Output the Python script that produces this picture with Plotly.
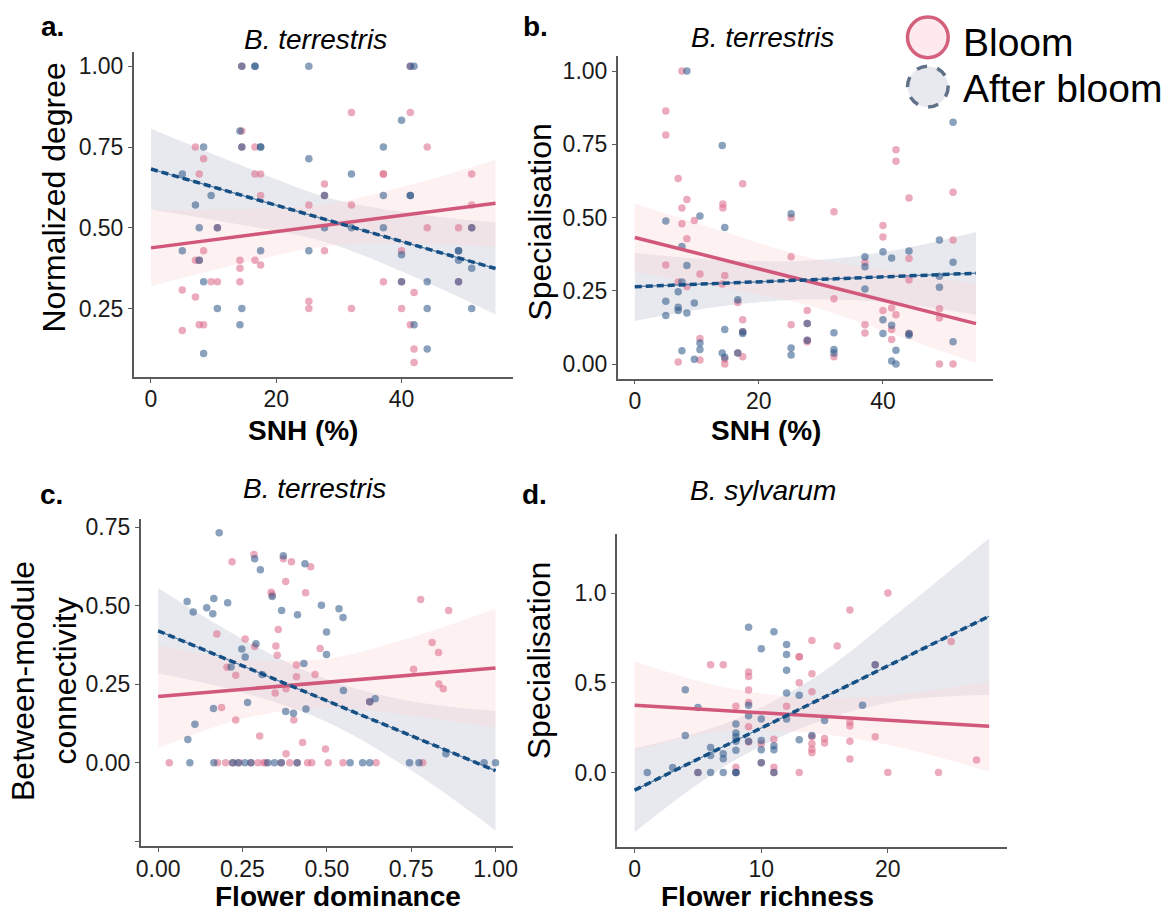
import plotly.graph_objects as go

# ---------------- data ----------------
# Panel a: SNH (%) vs Normalized degree, B. terrestris
a_bloom = [(14.5, 1.0), (41.4, 1.0), (32.0, 0.857), (41.4, 0.857), (14.5, 0.8),
           (7.1, 0.75), (14.5, 0.75), (16.6, 0.75), (44.1, 0.75), (8.4, 0.714),
           (7.7, 0.667), (16.6, 0.667), (17.5, 0.667), (37.1, 0.667), (37.1, 0.667), (51.2, 0.667),
           (27.7, 0.636), (17.5, 0.6), (27.7, 0.6), (25.2, 0.571), (32.0, 0.571), (51.2, 0.571),
           (10.6, 0.5), (44.1, 0.5), (49.1, 0.5), (51.2, 0.5), (8.4, 0.429), (27.7, 0.429), (40.0, 0.429),
           (7.1, 0.4), (7.7, 0.4), (14.2, 0.4), (16.6, 0.4), (17.5, 0.385), (14.2, 0.375),
           (9.6, 0.333), (10.6, 0.333), (14.2, 0.333), (37.1, 0.333), (40.0, 0.333), (49.1, 0.333),
           (5.0, 0.308), (42.0, 0.3), (7.1, 0.286), (25.2, 0.273), (25.2, 0.25), (32.0, 0.25), (40.0, 0.25),
           (7.7, 0.2), (8.4, 0.2), (41.4, 0.2), (5.0, 0.182), (42.0, 0.125), (42.0, 0.083)]
a_after = [(14.5, 1.0), (16.6, 1.0), (16.6, 1.0), (25.2, 1.0), (41.4, 1.0), (42.0, 1.0),
           (40.0, 0.833), (14.2, 0.8), (8.4, 0.75), (14.5, 0.75), (17.5, 0.75), (17.5, 0.75), (37.1, 0.75),
           (25.2, 0.714), (5.0, 0.667), (32.0, 0.667), (9.6, 0.6), (27.7, 0.6), (37.1, 0.6), (41.4, 0.6), (41.4, 0.6),
           (7.1, 0.571), (7.7, 0.5), (10.6, 0.5), (27.7, 0.5), (32.0, 0.5), (37.1, 0.5), (51.2, 0.5),
           (5.0, 0.429), (17.5, 0.429), (25.2, 0.429), (49.1, 0.429), (49.1, 0.429), (40.0, 0.417),
           (7.7, 0.4), (49.1, 0.4), (51.2, 0.375), (8.4, 0.333), (40.0, 0.333), (44.1, 0.333), (49.1, 0.333),
           (10.6, 0.25), (14.5, 0.25), (44.1, 0.25), (51.2, 0.25), (14.2, 0.2), (42.0, 0.2),
           (44.1, 0.125), (8.4, 0.111)]
a_fit_x = [0, 14, 28, 41, 55]
a_bloom_fit = [0.438, 0.473, 0.508, 0.541, 0.576]
a_bloom_hi = [0.557, 0.558, 0.573, 0.631, 0.711]
a_bloom_lo = [0.319, 0.388, 0.443, 0.451, 0.441]
a_after_fit = [0.682, 0.604, 0.525, 0.452, 0.374]
a_after_hi = [0.807, 0.697, 0.595, 0.547, 0.516]
a_after_lo = [0.557, 0.511, 0.455, 0.357, 0.232]

# Panel b: SNH (%) vs Specialisation, B. terrestris
b_bloom = [(7.6, 1.0), (5.0, 0.864), (5.0, 0.782), (7.0, 0.633), (17.4, 0.615), (42.1, 0.731), (42.1, 0.692),
           (44.2, 0.567), (51.3, 0.586), (14.2, 0.546), (14.2, 0.533), (8.4, 0.562), (7.6, 0.533), (9.6, 0.49),
           (7.6, 0.479), (8.4, 0.428), (25.2, 0.499), (32.1, 0.52), (40.0, 0.473), (40.0, 0.434), (51.3, 0.423),
           (25.2, 0.366), (44.2, 0.36), (44.2, 0.287), (37.1, 0.347), (5.0, 0.338), (10.5, 0.307), (14.5, 0.302),
           (7.0, 0.28), (8.4, 0.265), (14.1, 0.273), (16.6, 0.21), (32.1, 0.223), (17.4, 0.151),
           (27.8, 0.183), (27.8, 0.138), (25.2, 0.134), (37.1, 0.134), (37.1, 0.106), (40.0, 0.183),
           (41.4, 0.191), (41.4, 0.118), (42.1, 0.168), (41.4, 0.084), (44.2, 0.104), (49.1, 0.189), (49.1, 0.157),
           (17.4, 0.11), (10.5, 0.087), (16.6, 0.038), (10.5, 0.014), (7.0, 0.007), (14.5, 0.0), (14.5, 0.016),
           (17.4, 0.025), (27.8, 0.081), (27.8, 0.076), (32.1, 0.025), (49.1, 0.0), (51.3, 0.0)]
b_after = [(8.4, 1.0), (14.1, 0.746), (51.3, 0.825), (5.0, 0.488), (10.5, 0.505), (14.5, 0.466), (25.2, 0.513),
           (49.1, 0.423), (44.2, 0.386), (37.1, 0.366), (37.1, 0.332), (40.0, 0.383), (41.4, 0.362), (51.3, 0.347),
           (8.4, 0.336), (7.6, 0.401), (7.6, 0.28), (49.1, 0.3), (49.1, 0.262), (37.1, 0.256), (7.0, 0.247),
           (5.0, 0.214), (9.6, 0.208), (7.0, 0.194), (7.0, 0.183), (8.4, 0.174), (5.0, 0.166), (16.6, 0.219),
           (27.8, 0.138), (40.0, 0.151), (40.0, 0.104), (41.4, 0.132), (44.2, 0.104), (44.2, 0.098),
           (51.3, 0.076), (14.5, 0.118), (17.4, 0.11), (17.4, 0.104), (10.5, 0.072), (10.5, 0.05), (7.6, 0.045),
           (9.6, 0.016), (14.1, 0.038), (14.5, 0.023), (16.6, 0.038), (25.2, 0.055), (25.2, 0.031), (27.8, 0.081),
           (32.1, 0.107), (32.1, 0.05), (32.1, 0.038), (41.4, 0.01), (42.1, 0.047), (42.1, 0.0)]
b_fit_x = [0, 14, 28, 41, 55]
b_bloom_fit = [0.432, 0.357, 0.282, 0.213, 0.138]
b_bloom_hi = [0.548, 0.454, 0.364, 0.319, 0.273]
b_bloom_lo = [0.315, 0.260, 0.200, 0.107, 0.003]
b_after_fit = [0.264, 0.276, 0.287, 0.298, 0.310]
b_after_hi = [0.379, 0.355, 0.353, 0.385, 0.451]
b_after_lo = [0.147, 0.197, 0.221, 0.210, 0.168]

# Panel c: Flower dominance vs Between-module connectivity, B. terrestris
c_bloom = [(0.284, 0.663), (0.219, 0.64), (0.371, 0.649), (0.395, 0.64), (0.452, 0.624), (0.378, 0.577),
           (0.335, 0.543), (0.338, 0.535), (0.437, 0.541), (0.778, 0.52), (0.861, 0.485), (0.174, 0.41),
           (0.356, 0.424), (0.258, 0.394), (0.349, 0.372), (0.286, 0.37), (0.48, 0.364), (0.353, 0.342),
           (0.812, 0.383), (0.831, 0.351), (0.757, 0.298), (0.204, 0.304), (0.23, 0.279), (0.41, 0.311),
           (0.41, 0.274), (0.465, 0.281), (0.347, 0.222), (0.379, 0.236), (0.832, 0.251), (0.845, 0.236),
           (0.627, 0.194), (0.188, 0.176), (0.23, 0.136), (0.402, 0.136), (0.301, 0.085), (0.428, 0.065),
           (0.496, 0.044), (0.379, 0.029),
           (0.033, 0.0), (0.176, 0.0), (0.2, 0.0), (0.221, 0.0), (0.24, 0.0), (0.275, 0.0), (0.296, 0.0),
           (0.313, 0.0), (0.319, 0.0), (0.365, 0.0), (0.39, 0.0), (0.412, 0.0), (0.443, 0.0), (0.455, 0.0),
           (0.504, 0.0), (0.548, 0.0), (0.646, 0.0), (0.784, 0.0)]
c_after = [(0.181, 0.732), (0.286, 0.649), (0.303, 0.614), (0.371, 0.659), (0.435, 0.633), (0.338, 0.529),
           (0.086, 0.513), (0.104, 0.48), (0.144, 0.493), (0.165, 0.523), (0.162, 0.474), (0.206, 0.509),
           (0.366, 0.485), (0.413, 0.471), (0.484, 0.501), (0.536, 0.49), (0.548, 0.462), (0.499, 0.416),
           (0.248, 0.362), (0.29, 0.379), (0.499, 0.345), (0.258, 0.337), (0.216, 0.305), (0.308, 0.281),
           (0.432, 0.316), (0.549, 0.23), (0.627, 0.194), (0.643, 0.204), (0.164, 0.173), (0.265, 0.192),
           (0.378, 0.163), (0.401, 0.158), (0.438, 0.171), (0.109, 0.123), (0.088, 0.074), (0.853, 0.029),
           (0.094, 0.0), (0.165, 0.0), (0.221, 0.0), (0.237, 0.0), (0.257, 0.0), (0.275, 0.0), (0.325, 0.0),
           (0.345, 0.0), (0.365, 0.0), (0.412, 0.0), (0.569, 0.0), (0.606, 0.0), (0.627, 0.0), (0.745, 0.0),
           (0.773, 0.0), (0.966, 0.0), (1.0, 0.0)]
c_fit_x = [0, 0.25, 0.5, 0.75, 1.0]
c_bloom_fit = [0.211, 0.234, 0.257, 0.279, 0.302]
c_bloom_hi = [0.376, 0.329, 0.332, 0.399, 0.490]
c_bloom_lo = [0.046, 0.140, 0.175, 0.150, 0.112]
c_after_fit = [0.420, 0.309, 0.198, 0.086, -0.025]
c_after_hi = [0.556, 0.394, 0.266, 0.196, 0.165]
c_after_lo = [0.284, 0.224, 0.130, -0.024, -0.215]

# Panel d: Flower richness vs Specialisation, B. sylvarum
d_bloom = [(20, 1.0), (17, 0.905), (14, 0.735), (16, 0.705), (25, 0.73), (13, 0.645), (13, 0.645), (6, 0.6),
           (7, 0.6), (19, 0.6), (9, 0.56), (9, 0.535), (14, 0.55), (9, 0.46), (13, 0.5), (14, 0.45), (9, 0.39),
           (8, 0.37), (12, 0.37), (17, 0.28), (17, 0.26), (9, 0.255), (14, 0.2), (15, 0.19), (15, 0.165),
           (19, 0.2), (17, 0.175), (9, 0.17), (11, 0.185), (14, 0.16), (14, 0.13), (14, 0.11), (10, 0.16),
           (17, 0.075), (27, 0.07), (8, 0.03), (11, 0.03), (5, 0.0), (8, 0.0), (11, 0.0), (13, 0.0), (20, 0.0),
           (24, 0.0), (10, 0.055)]
d_after = [(1, 0.0), (3, 0.028), (4, 0.462), (4, 0.207), (5, 0.363), (5, 0.0), (6, 0.14), (6, 0.095), (6, 0.0),
           (7, 0.105), (7, 0.077), (7, 0.0), (8, 0.27), (8, 0.22), (8, 0.2), (8, 0.175), (8, 0.124), (8, 0.0),
           (8, 0.0), (9, 0.81), (9, 0.375), (9, 0.317), (9, 0.175), (10, 0.69), (10, 0.299), (10, 0.179),
           (10, 0.127), (10, 0.055), (11, 0.784), (11, 0.149), (11, 0.127), (11, 0.0), (12, 0.714), (12, 0.657),
           (12, 0.57), (12, 0.443), (12, 0.299), (13, 0.43), (13, 0.183), (14, 0.207), (15, 0.29), (18, 0.375),
           (19, 0.6)]
d_fit_x = [0, 7, 14, 21, 28]
d_bloom_fit = [0.375, 0.346, 0.316, 0.287, 0.258]
d_bloom_hi = [0.618, 0.476, 0.416, 0.437, 0.507]
d_bloom_lo = [0.120, 0.230, 0.220, 0.140, 0.005]
d_after_fit = [-0.098, 0.144, 0.387, 0.629, 0.871]
d_after_hi = [0.135, 0.270, 0.520, 0.900, 1.305]
d_after_lo = [-0.332, 0.030, 0.270, 0.400, 0.432]

# ---------------- styling ----------------
FONT = "Liberation Sans, Arial, sans-serif"
PINK_PT = "rgba(222,110,140,0.58)"
BLUE_PT = "rgba(45,88,135,0.56)"
PINK_LINE = "#d1587a"
BLUE_LINE = "#154f84"
PINK_RIB = "rgba(253,215,220,0.36)"
GRAY_RIB = "rgba(195,198,214,0.38)"

fig = go.Figure()

panels = [
    ("x", "y", a_bloom, a_after, a_fit_x, a_bloom_fit, a_bloom_hi, a_bloom_lo, a_after_fit, a_after_hi, a_after_lo),
    ("x2", "y2", b_bloom, b_after, b_fit_x, b_bloom_fit, b_bloom_hi, b_bloom_lo, b_after_fit, b_after_hi, b_after_lo),
    ("x3", "y3", c_bloom, c_after, c_fit_x, c_bloom_fit, c_bloom_hi, c_bloom_lo, c_after_fit, c_after_hi, c_after_lo),
    ("x4", "y4", d_bloom, d_after, d_fit_x, d_bloom_fit, d_bloom_hi, d_bloom_lo, d_after_fit, d_after_hi, d_after_lo),
]

for xa, ya, pb, pa, fx, bf, bh, bl, af, ah, al in panels:
    # confidence ribbons
    for hi, lo, col in ((ah, al, GRAY_RIB), (bh, bl, PINK_RIB)):
        fig.add_trace(go.Scatter(x=fx, y=hi, xaxis=xa, yaxis=ya, mode="lines",
                                 line=dict(width=0, shape="spline", smoothing=1.0),
                                 showlegend=False, hoverinfo="skip"))
        fig.add_trace(go.Scatter(x=fx, y=lo, xaxis=xa, yaxis=ya, mode="lines",
                                 line=dict(width=0, shape="spline", smoothing=1.0),
                                 fill="tonexty", fillcolor=col,
                                 showlegend=False, hoverinfo="skip"))
    # points
    for pts, col in ((pb, PINK_PT), (pa, BLUE_PT)):
        fig.add_trace(go.Scatter(x=[p[0] for p in pts], y=[p[1] for p in pts], xaxis=xa, yaxis=ya,
                                 mode="markers", marker=dict(size=7.5, color=col, line=dict(width=0)),
                                 showlegend=False))
    # fitted lines
    fig.add_trace(go.Scatter(x=[fx[0], fx[-1]], y=[bf[0], bf[-1]], xaxis=xa, yaxis=ya, mode="lines",
                             line=dict(color=PINK_LINE, width=3.5), showlegend=False))
    fig.add_trace(go.Scatter(x=[fx[0], fx[-1]], y=[af[0], af[-1]], xaxis=xa, yaxis=ya, mode="lines",
                             line=dict(color="#4f7ba3", width=1.2), showlegend=False))
    fig.add_trace(go.Scatter(x=[fx[0], fx[-1]], y=[af[0], af[-1]], xaxis=xa, yaxis=ya, mode="lines",
                             line=dict(color=BLUE_LINE, width=3.5, dash="7px,4px"), showlegend=False))

axis_common = dict(showgrid=False, zeroline=False, showline=True, linecolor="#5a5a5a", linewidth=1.5,
                   ticks="outside", ticklen=4, tickwidth=1.3, tickcolor="#5a5a5a",
                   tickfont=dict(family=FONT, size=23, color="#1a1a1a"), mirror=False)
xtick = dict(ticklabelstandoff=-3)

fig.update_layout(
    width=1169, height=918, margin=dict(l=0, r=0, t=0, b=0),
    paper_bgcolor="white", plot_bgcolor="white", showlegend=False,
    xaxis=dict(domain=[0.1110, 0.4377], range=[-2.75, 57.75], anchor="y",
               tickvals=[0, 20, 40], **axis_common, **xtick),
    yaxis=dict(domain=[0.5926, 0.9488], range=[0.0385, 1.045], anchor="x",
               tickvals=[0.25, 0.5, 0.75, 1.0], ticktext=["0.25", "0.50", "0.75", "1.00"], **axis_common),
    xaxis2=dict(domain=[0.5282, 0.8518], range=[-2.75, 57.75], anchor="y2",
                tickvals=[0, 20, 40], **axis_common, **xtick),
    yaxis2=dict(domain=[0.5907, 0.9437], range=[-0.05, 1.05], anchor="x2",
                tickvals=[0, 0.25, 0.5, 0.75, 1.0], ticktext=["0.00", "0.25", "0.50", "0.75", "1.00"],
                **axis_common),
    xaxis3=dict(domain=[0.1169, 0.4383], range=[-0.052, 1.053], anchor="y3",
                tickvals=[0, 0.25, 0.5, 0.75, 1.0], ticktext=["0.00", "0.25", "0.50", "0.75", "1.00"],
                **axis_common, **xtick),
    yaxis3=dict(domain=[0.0784, 0.4371], range=[-0.266, 0.776], anchor="x3",
                tickvals=[-0.25, 0, 0.25, 0.5, 0.75], ticktext=["", "0.00", "0.25", "0.50", "0.75"],
                **axis_common),
    xaxis4=dict(domain=[0.5275, 0.8637], range=[-1.4, 29.4], anchor="y4",
                tickvals=[0, 10, 20], **axis_common, **xtick),
    yaxis4=dict(domain=[0.0777, 0.4208], range=[-0.415, 1.33], anchor="x4",
                tickvals=[0, 0.5, 1.0], ticktext=["0.0", "0.5", "1.0"], **axis_common),
)

W, H = 1169.0, 918.0


def ann(text, cx, cy, size, bold=False, italic=False, angle=0, xanchor="center"):
    t = text
    if bold:
        t = "<b>" + t + "</b>"
    if italic:
        t = "<i>" + t + "</i>"
    return dict(text=t, x=cx / W, y=1 - cy / H, xref="paper", yref="paper", showarrow=False,
                xanchor=xanchor, yanchor="middle", textangle=angle,
                font=dict(family=FONT, size=size, color="black"))


annotations = [
    ann("a.", 48, 22, 28, bold=True), ann("b.", 535, 22, 28, bold=True),
    ann("c.", 47, 492, 28, bold=True), ann("d.", 534, 492, 28, bold=True),
    ann("B. terrestris", 313, 35, 28, italic=True), ann("B. terrestris", 763, 33, 28, italic=True),
    ann("B. terrestris", 312, 486, 28, italic=True), ann("B. sylvarum", 764, 488, 28, italic=True),
    ann("Normalized degree", 49, 194, 32, angle=-90),
    ann("Specialisation", 539, 218, 32, angle=-90),
    ann("Between-module<br>connectivity", 40, 680, 32, angle=-90),
    ann("Specialisation", 539, 659, 32, angle=-90),
    ann("SNH (%)", 300, 428, 28, bold=True), ann("SNH (%)", 767, 428, 28, bold=True),
    ann("Flower dominance", 336, 896, 28, bold=True), ann("Flower richness", 768, 896, 28, bold=True),
    ann("Bloom", 963, 38, 39, xanchor="left"), ann("After bloom", 963, 84, 39, xanchor="left"),
]
fig.update_layout(annotations=annotations)

r = 20.5
shapes = [
    dict(type="circle", xref="paper", yref="paper",
         x0=(930 - r) / W, x1=(930 + r) / W, y0=1 - (32.5 + r) / H, y1=1 - (32.5 - r) / H,
         fillcolor="#fde9ee", line=dict(color="#d4607c", width=3.5)),
    dict(type="circle", xref="paper", yref="paper",
         x0=(930 - r) / W, x1=(930 + r) / W, y0=1 - (82 + r) / H, y1=1 - (82 - r) / H,
         fillcolor="#e8e9ee", line=dict(color="#607288", width=3.5, dash="dash")),
]
fig.update_layout(shapes=shapes)

fig.write_html("out.html")
